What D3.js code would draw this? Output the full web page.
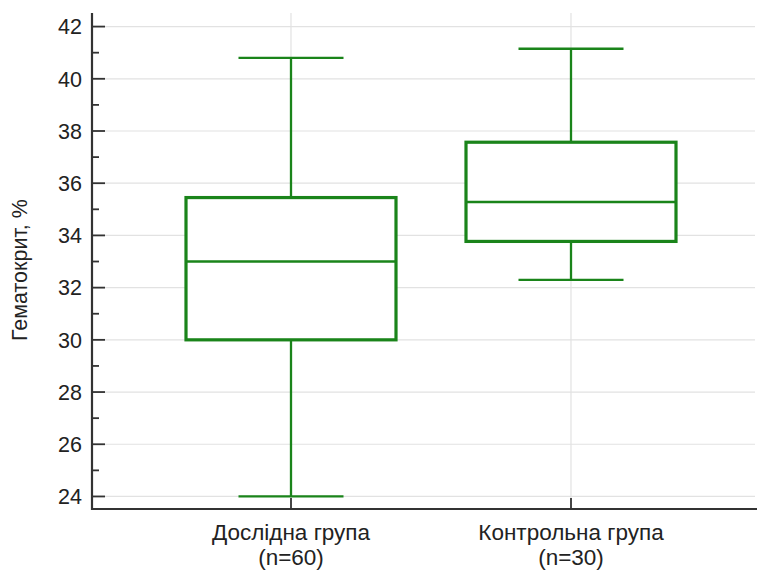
<!DOCTYPE html>
<html>
<head>
<meta charset="utf-8">
<script src="https://cdn.jsdelivr.net/npm/d3@7"></script>
<style>
  body { margin: 0; background: #fff; }
  text { font-family: "Liberation Sans", Arial, sans-serif; fill: #222; }
</style>
</head>
<body>
<div id="container"></div>
<script>
/* DATA */
const categories = ["Дослідна група", "Контрольна група"];
const groupSizes = ["(n=60)", "(n=30)"];
const whiskerLow = [24.0, 32.3];
const q1 = [30.0, 33.77];
const median = [33.0, 35.28];
const q3 = [35.45, 37.57];
const whiskerHigh = [40.8, 41.15];
const yTicks = [24, 26, 28, 30, 32, 34, 36, 38, 40, 42];
const yMinorTicks = [25, 27, 29, 31, 33, 35, 37, 39, 41];

/* CONSTANTS */
const width = 759, height = 571;
const plot = {left: 92, right: 757, top: 13, bottom: 509};
const green = "#1a841a";

const svg = d3.select("#container").append("svg")
  .attr("width", width).attr("height", height);

// SCALES
const yScale = d3.scaleLinear().domain([23.52, 42.52]).range([plot.bottom, plot.top]);
const xScale = d3.scaleBand().domain(categories).range([151, 711]).padding(0);
const boxW = xScale.bandwidth() * 0.75;
const cx = c => xScale(c) + xScale.bandwidth() / 2;

// GRID
svg.append("g").selectAll("line").data(yTicks).join("line")
  .attr("x1", plot.left).attr("x2", 755)
  .attr("y1", d => yScale(d)).attr("y2", d => yScale(d))
  .attr("stroke", "#e2e2e2").attr("stroke-width", 1.2);
svg.append("g").selectAll("line").data(categories).join("line")
  .attr("x1", cx).attr("x2", cx)
  .attr("y1", plot.top).attr("y2", plot.bottom)
  .attr("stroke", "#e2e2e2").attr("stroke-width", 1.2);

// BOXES
const data = categories.map((c, i) => ({
  c, lo: whiskerLow[i], q1: q1[i], med: median[i], q3: q3[i], hi: whiskerHigh[i]
}));
const g = svg.append("g").selectAll("g").data(data).join("g");
// whisker stems
g.append("line").attr("x1", d => cx(d.c)).attr("x2", d => cx(d.c))
  .attr("y1", d => yScale(d.hi)).attr("y2", d => yScale(d.q3))
  .attr("stroke", green).attr("stroke-width", 2.3);
g.append("line").attr("x1", d => cx(d.c)).attr("x2", d => cx(d.c))
  .attr("y1", d => yScale(d.q1)).attr("y2", d => yScale(d.lo))
  .attr("stroke", green).attr("stroke-width", 2.3);
// caps
g.selectAll(".cap").data(d => [[d.c, d.hi], [d.c, d.lo]]).join("line")
  .attr("x1", d => cx(d[0]) - boxW / 4).attr("x2", d => cx(d[0]) + boxW / 4)
  .attr("y1", d => yScale(d[1])).attr("y2", d => yScale(d[1]))
  .attr("stroke", green).attr("stroke-width", 2.3);
// box
g.append("rect")
  .attr("x", d => cx(d.c) - boxW / 2).attr("width", boxW)
  .attr("y", d => yScale(d.q3)).attr("height", d => yScale(d.q1) - yScale(d.q3))
  .attr("fill", "#fff").attr("stroke", green).attr("stroke-width", 3.2);
// median
g.append("line")
  .attr("x1", d => cx(d.c) - boxW / 2).attr("x2", d => cx(d.c) + boxW / 2)
  .attr("y1", d => yScale(d.med)).attr("y2", d => yScale(d.med))
  .attr("stroke", green).attr("stroke-width", 2.5);

// Y AXIS
const yAxis = svg.append("g");
yAxis.append("line").attr("x1", plot.left).attr("x2", plot.left)
  .attr("y1", plot.top).attr("y2", plot.bottom + 1)
  .attr("stroke", "#333").attr("stroke-width", 2.2);
yAxis.selectAll(".major").data(yTicks).join("line")
  .attr("x1", plot.left).attr("x2", plot.left + 13)
  .attr("y1", d => yScale(d)).attr("y2", d => yScale(d))
  .attr("stroke", "#333").attr("stroke-width", 1.8);
yAxis.selectAll(".minor").data(yMinorTicks).join("line")
  .attr("x1", plot.left).attr("x2", plot.left + 7)
  .attr("y1", d => yScale(d)).attr("y2", d => yScale(d))
  .attr("stroke", "#333").attr("stroke-width", 1.8);
yAxis.selectAll("text").data(yTicks).join("text")
  .attr("x", 82).attr("y", d => yScale(d)).attr("dy", "0.36em")
  .attr("text-anchor", "end").attr("font-size", 21.5).text(d => d);

// X AXIS
const xAxis = svg.append("g");
xAxis.append("line").attr("x1", plot.left - 1).attr("x2", plot.right)
  .attr("y1", plot.bottom).attr("y2", plot.bottom)
  .attr("stroke", "#333").attr("stroke-width", 2.2);
xAxis.selectAll(".tick").data(categories).join("line")
  .attr("x1", cx).attr("x2", cx).attr("y1", plot.bottom).attr("y2", plot.bottom - 11)
  .attr("stroke", "#333").attr("stroke-width", 1.8);
xAxis.selectAll(".l1").data(categories).join("text")
  .attr("x", cx).attr("y", 540).attr("text-anchor", "middle")
  .attr("font-size", 22.5).text(d => d);
xAxis.selectAll(".l2").data(categories).join("text")
  .attr("x", cx).attr("y", 565).attr("text-anchor", "middle")
  .attr("font-size", 22.5).text((d, i) => groupSizes[i]);

// Y LABEL
svg.append("text")
  .attr("transform", "translate(27,270) rotate(-90)")
  .attr("text-anchor", "middle").attr("font-size", 21.5)
  .text("Гематокрит, %");
</script>
</body>
</html>
